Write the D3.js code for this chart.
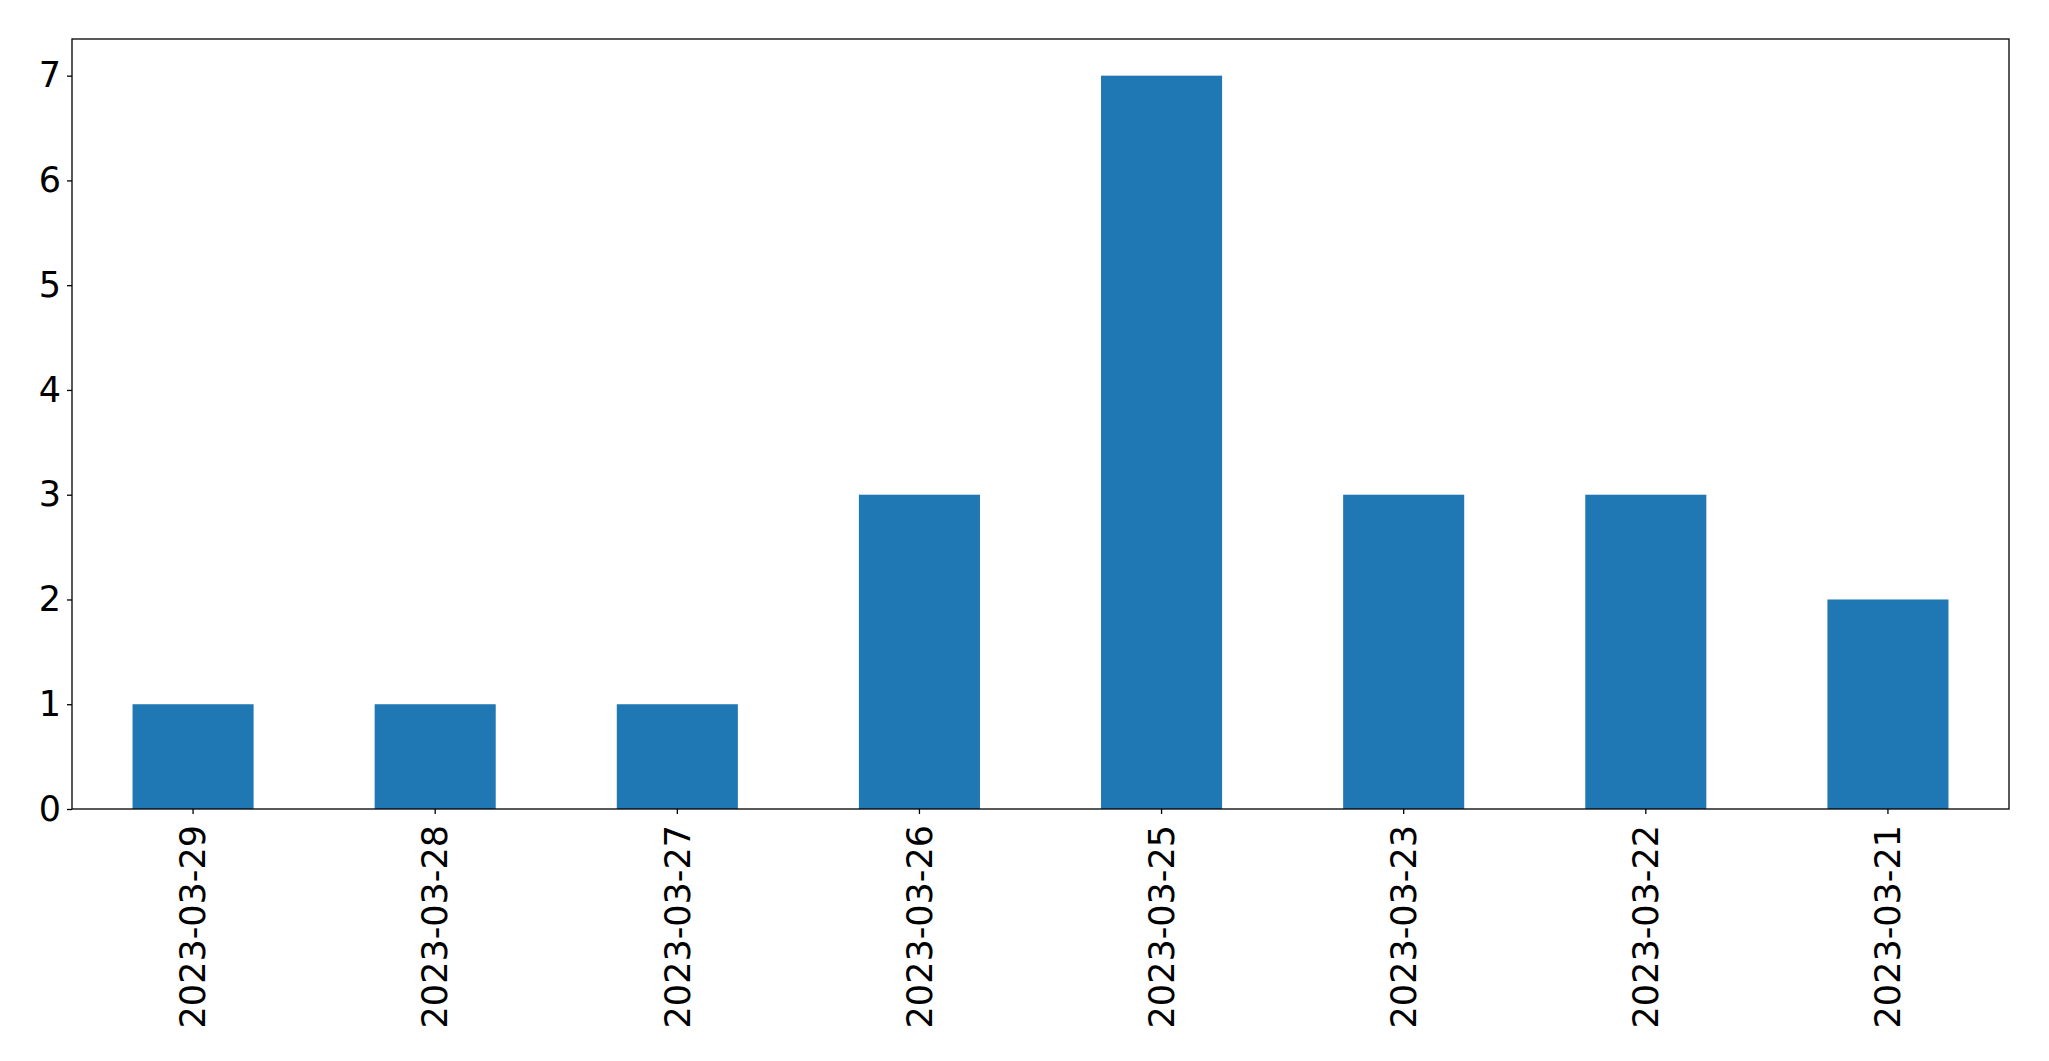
<!DOCTYPE html>
<html><head><meta charset="utf-8">
<script src="https://cdn.jsdelivr.net/npm/d3@7"></script>
<style>html,body{margin:0;padding:0;background:#fff;} svg{display:block;}</style>
</head><body>
<svg id="chart" width="2049" height="1061"></svg>
<script>
const categories = ["2023-03-29","2023-03-28","2023-03-27","2023-03-26","2023-03-25","2023-03-23","2023-03-22","2023-03-21"];
const values = [1,1,1,3,7,3,3,2];
const yTicks = [0,1,2,3,4,5,6,7];

const svg = d3.select("#chart");
const mLeft = 72, mRight = 2009, mTop = 39, mBottom = 809;
const font = "'DejaVu Sans', sans-serif";

const x = d3.scaleBand().domain(categories).range([mLeft, mRight]).paddingInner(0.5).paddingOuter(0.25);
const y = d3.scaleLinear().domain([0, 7.35]).range([mBottom, mTop]);

svg.append("g").selectAll("rect").data(values).join("rect")
  .attr("x", (d,i) => x(categories[i]))
  .attr("width", x.bandwidth())
  .attr("y", d => y(d))
  .attr("height", d => y(0) - y(d))
  .attr("fill", "#1f77b4");

const yAxis = svg.append("g").attr("transform", `translate(${mLeft},0)`)
  .call(d3.axisLeft(y).tickValues(yTicks).tickFormat(d3.format("d")).tickSize(5).tickPadding(6));
yAxis.select(".domain").remove();
yAxis.selectAll("line").attr("stroke", "#000").attr("stroke-width", 1.3);
yAxis.selectAll("text").attr("font-family", font).attr("font-size", 35).attr("fill", "#000");

const xAxis = svg.append("g").attr("transform", `translate(0,${mBottom})`)
  .call(d3.axisBottom(x).tickSize(5).tickPadding(10));
xAxis.select(".domain").remove();
xAxis.selectAll("line").attr("stroke", "#000").attr("stroke-width", 1.3);
xAxis.selectAll("text")
  .attr("font-family", font).attr("font-size", 35).attr("fill", "#000")
  .attr("transform", "rotate(-90)")
  .attr("text-anchor", "end")
  .attr("x", -16).attr("y", 0).attr("dy", "0.35em");

svg.append("rect").attr("x", mLeft).attr("y", mTop).attr("width", mRight-mLeft).attr("height", mBottom-mTop)
  .attr("fill", "none").attr("stroke", "#000").attr("stroke-width", 1.3);
</script>
</body></html>
